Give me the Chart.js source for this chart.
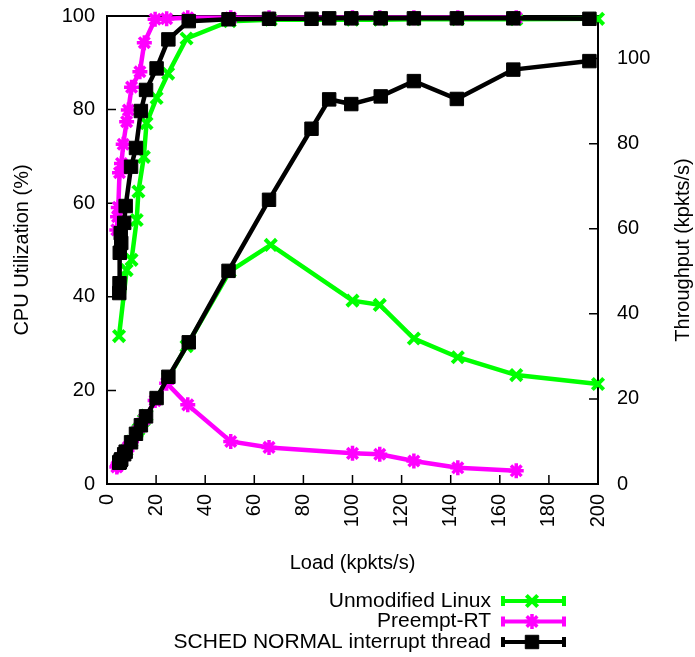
<!DOCTYPE html>
<html>
<head>
<meta charset="utf-8">
<script src="https://cdn.jsdelivr.net/npm/chart.js@4"></script>
<style>
html, body { margin: 0; padding: 0; background: #fff; }
</style>
</head>
<body>
<canvas id="chart" width="695" height="657"></canvas>
<script>
// Unmodified Linux
const linuxLoad = [4.9, 8.0, 10.0, 12.1, 12.8, 15.0, 16.1, 20.2, 24.9, 32.4, 50.0, 66.7, 100.0, 111.1, 125.0, 142.9, 166.7, 200.0];
const linuxCpu = [31.6, 45.7, 47.9, 56.4, 62.5, 69.9, 77.1, 82.5, 87.7, 95.2, 98.9, 99.2, 99.2, 99.2, 99.3, 99.3, 99.3, 99.4];
const linuxTput = [4.9, 8.0, 10.0, 12.1, 12.8, 15.0, 16.1, 20.2, 24.9, 32.4, 50.0, 56.2, 43.1, 42.1, 34.2, 29.8, 25.6, 23.5];

// Preempt-RT
const rtLoad = [4.0, 4.3, 4.6, 5.1, 5.9, 6.6, 8.0, 8.7, 10.0, 13.4, 15.2, 19.6, 24.3, 32.9, 50.4, 66.0, 100.0, 111.1, 125.0, 142.9, 166.7];
const rtCpu = [54.3, 57.1, 59.1, 66.5, 68.5, 72.6, 77.4, 79.9, 84.8, 88.1, 94.3, 99.3, 99.4, 99.6, 99.6, 99.6, 99.6, 99.6, 99.6, 99.6, 99.6];
const rtTput = [4.0, 4.3, 4.6, 5.1, 5.9, 6.6, 8.0, 8.7, 10.0, 13.4, 15.2, 19.6, 23.7, 18.6, 10.0, 8.6, 7.2, 7.0, 5.4, 3.8, 3.1];

// SCHED NORMAL interrupt thread
const normLoad = [5.0, 5.1, 5.2, 5.8, 5.6, 7.0, 7.6, 9.8, 11.8, 13.8, 15.9, 20.2, 25.0, 33.3, 49.5, 66.0, 83.3, 90.5, 99.5, 111.5, 125.0, 142.5, 165.5, 196.5];
const normCpu = [40.8, 42.9, 49.4, 51.5, 53.6, 55.8, 59.4, 67.8, 71.8, 79.7, 84.2, 88.8, 95.0, 98.9, 99.3, 99.4, 99.4, 99.5, 99.5, 99.5, 99.5, 99.5, 99.5, 99.4];
const normTput = [5.0, 5.1, 5.2, 5.8, 5.6, 7.0, 7.6, 9.8, 11.8, 13.8, 15.9, 20.2, 25.2, 33.3, 50.1, 66.8, 83.5, 90.4, 89.3, 91.1, 94.7, 90.5, 97.4, 99.4];

const seriesNames = ['Unmodified Linux', 'Preempt-RT', 'SCHED NORMAL interrupt thread'];
const xTicks = [0, 20, 40, 60, 80, 100, 120, 140, 160, 180, 200];
const cpuTicks = [0, 20, 40, 60, 80, 100];
const tputTicks = [0, 20, 40, 60, 80, 100];

const FONT = "'Liberation Sans', Arial, sans-serif";

const styles = [
    { color: '#00ff00', pointStyle: 'crossRot', radius: 8, pointBorder: 4, order: 2 },
    { color: '#ff00ff', pointStyle: 'star', radius: 7.5, pointBorder: 3.5, order: 1 },
    { color: '#000000', pointStyle: 'rect', radius: 9.5, pointBorder: 1, order: 0 }
];

function pts(xs, ys) {
    return xs.map((x, i) => ({ x: x, y: ys[i] }));
}

function makeSet(idx, xs, ys, axis) {
    const s = styles[idx];
    return {
        label: seriesNames[idx],
        data: pts(xs, ys),
        yAxisID: axis,
        borderColor: s.color,
        backgroundColor: s.color,
        borderWidth: 4.5,
        pointStyle: s.pointStyle,
        pointRadius: s.radius,
        pointBorderWidth: s.pointBorder,
        pointBorderColor: s.color,
        pointBackgroundColor: s.color,
        tension: 0,
        clip: false,
        order: s.order
    };
}

// fixed box sizes so the plot area matches the original
function fixWidth(w) {
    return s => {
        s.width = w;
        s.paddingTop = 0;
        s.paddingBottom = 0;
    };
}

const frame = {
    id: 'frame',
    beforeDatasetsDraw(chart) {
        const ctx = chart.ctx;
        const a = chart.chartArea;
        const { x, y, y2 } = chart.scales;
        ctx.save();
        ctx.strokeStyle = '#000';
        ctx.lineWidth = 1.5;
        ctx.beginPath();
        xTicks.forEach(v => {
            const p = x.getPixelForValue(v);
            ctx.moveTo(p, a.bottom);
            ctx.lineTo(p, a.bottom - 9);
        });
        cpuTicks.forEach(v => {
            const p = y.getPixelForValue(v);
            ctx.moveTo(a.left, p);
            ctx.lineTo(a.left + 9, p);
        });
        tputTicks.forEach(v => {
            const p = y2.getPixelForValue(v);
            ctx.moveTo(a.right, p);
            ctx.lineTo(a.right - 9, p);
        });
        ctx.stroke();
        ctx.lineWidth = 2;
        ctx.strokeRect(a.left, a.top, a.right - a.left, a.bottom - a.top);
        ctx.restore();
    },
    afterDraw(chart) {
        const ctx = chart.ctx;
        const a = chart.chartArea;
        ctx.save();
        ctx.fillStyle = '#000';
        ctx.font = '20px ' + FONT;
        // right axis title, reading upwards
        ctx.translate(683, (a.top + a.bottom) / 2);
        ctx.rotate(-Math.PI / 2);
        ctx.textAlign = 'center';
        ctx.textBaseline = 'middle';
        ctx.fillText('Throughput (kpkts/s)', 0, 0);
        ctx.restore();

        // legend
        ctx.save();
        ctx.font = '21px ' + FONT;
        ctx.textAlign = 'right';
        ctx.textBaseline = 'middle';
        seriesNames.forEach((name, i) => {
            const s = styles[i];
            const yy = 601 + i * 20.5;
            ctx.fillStyle = '#000';
            ctx.fillText(name, 491, yy);
            ctx.strokeStyle = s.color;
            ctx.fillStyle = s.color;
            ctx.lineWidth = 4;
            ctx.beginPath();
            ctx.moveTo(503, yy);
            ctx.lineTo(564, yy);
            ctx.moveTo(503, yy - 5);
            ctx.lineTo(503, yy + 5);
            ctx.moveTo(564, yy - 5);
            ctx.lineTo(564, yy + 5);
            ctx.stroke();
            ctx.lineWidth = s.pointBorder;
            Chart.helpers.drawPoint(ctx, {
                pointStyle: s.pointStyle,
                radius: s.radius,
                rotation: 0,
                borderWidth: s.pointBorder
            }, 532, yy);
        });
        ctx.restore();
    }
};

const ctx = document.getElementById('chart').getContext('2d');
const chart = new Chart(ctx, {
    type: 'line',
    data: {
        datasets: [
            makeSet(0, linuxLoad, linuxCpu, 'y'),
            makeSet(1, rtLoad, rtCpu, 'y'),
            makeSet(2, normLoad, normCpu, 'y'),
            makeSet(0, linuxLoad, linuxTput, 'y2'),
            makeSet(1, rtLoad, rtTput, 'y2'),
            makeSet(2, normLoad, normTput, 'y2')
        ]
    },
    options: {
        responsive: false,
        animation: false,
        devicePixelRatio: 1,
        layout: { padding: { top: 16, left: 0, right: 0, bottom: 0 } },
        plugins: {
            legend: { display: false },
            tooltip: { enabled: false }
        },
        scales: {
            x: {
                type: 'linear',
                position: 'bottom',
                min: 0,
                max: 200,
                grid: { display: false, drawTicks: false },
                border: { display: false },
                ticks: {
                    stepSize: 20,
                    autoSkip: false,
                    minRotation: 90,
                    maxRotation: 90,
                    padding: 10,
                    color: '#000',
                    font: { family: FONT, size: 20 }
                },
                title: {
                    display: true,
                    text: 'Load (kpkts/s)',
                    color: '#000',
                    font: { family: FONT, size: 20 },
                    padding: { top: 0, bottom: 82 }
                },
                afterFit: s => { s.height = 173; }
            },
            y: {
                position: 'left',
                min: 0,
                max: 100,
                grid: { display: false, drawTicks: false },
                border: { display: false },
                ticks: {
                    stepSize: 20,
                    padding: 12,
                    color: '#000',
                    font: { family: FONT, size: 20 }
                },
                title: {
                    display: true,
                    text: 'CPU Utilization (%)',
                    color: '#000',
                    font: { family: FONT, size: 20 },
                    padding: { top: 10, bottom: 0 }
                },
                afterFit: fixWidth(107)
            },
            y2: {
                position: 'right',
                min: 0,
                max: 110,
                grid: { display: false, drawTicks: false },
                border: { display: false },
                ticks: {
                    stepSize: 20,
                    includeBounds: false,
                    padding: 19,
                    color: '#000',
                    font: { family: FONT, size: 20 }
                },
                afterFit: fixWidth(97)
            }
        }
    },
    plugins: [frame]
});
</script>
</body>
</html>
